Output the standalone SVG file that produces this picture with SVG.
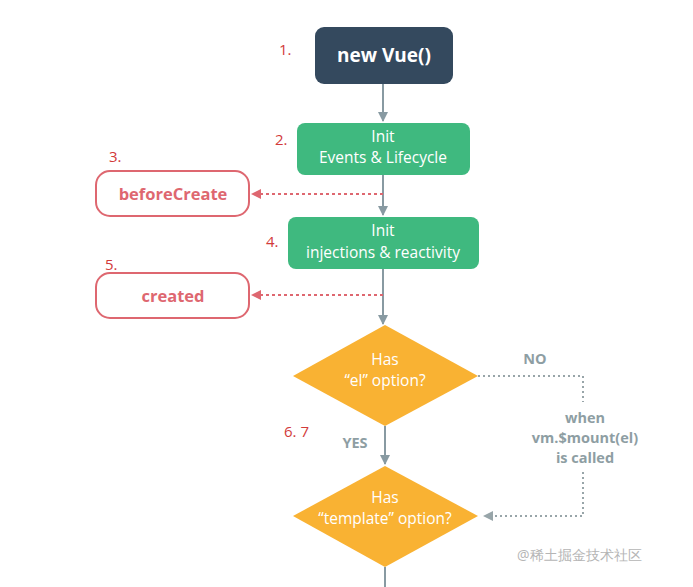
<svg xmlns="http://www.w3.org/2000/svg" width="693" height="587" viewBox="0 0 693 587">
<style>
text{font-family:"Open Sans","Liberation Sans",sans-serif;}
.num{fill:#d23a3a;font-size:15px;}
.wt{fill:#ffffff;font-size:15.5px;text-anchor:middle;}
.hook{fill:#ffffff;stroke:#de6770;stroke-width:2;}
.hookt{fill:#de6770;font-size:16.5px;font-weight:bold;text-anchor:middle;}
.gt{fill:#8e9ea3;font-size:14.5px;font-weight:bold;text-anchor:middle;}
.solid{stroke:#889aa2;stroke-width:2;fill:none;}
.pdash{stroke:#de6770;stroke-width:2;stroke-dasharray:3 3;fill:none;}
.gdash{stroke:#98a5a9;stroke-width:2;stroke-dasharray:2 3;fill:none;}
</style>
<defs>
<marker id="ag" viewBox="0 0 10 10" refX="9" refY="5" markerWidth="5" markerHeight="5" orient="auto"><path d="M0,0 L10,5 L0,10 z" fill="#889aa2"/></marker>
<marker id="ap" viewBox="0 0 10 10" refX="9" refY="5" markerWidth="5" markerHeight="5" orient="auto"><path d="M0,0 L10,5 L0,10 z" fill="#de6770"/></marker>
<marker id="ad" viewBox="0 0 10 10" refX="9" refY="5" markerWidth="5" markerHeight="5" orient="auto"><path d="M0,0 L10,5 L0,10 z" fill="#98a5a9"/></marker>
</defs>
<rect width="693" height="587" fill="#ffffff"/>
<g id="connectors">
<line class="solid" x1="383" y1="84" x2="383" y2="121" marker-end="url(#ag)"/>
<line class="solid" x1="383" y1="175" x2="383" y2="215" marker-end="url(#ag)"/>
<line class="solid" x1="383" y1="269" x2="383" y2="324" marker-end="url(#ag)"/>
<line class="pdash" x1="383" y1="194" x2="252" y2="194" marker-end="url(#ap)"/>
<line class="pdash" x1="383" y1="295" x2="252" y2="295" marker-end="url(#ap)"/>
<line class="solid" x1="385" y1="426" x2="385" y2="464" marker-end="url(#ag)"/>
<line class="solid" x1="385" y1="567" x2="385" y2="587"/>
<polyline class="gdash" points="478,376 583,376 583,402"/>
<polyline class="gdash" points="583,472 583,516 484,516" marker-end="url(#ad)"/>
</g>
<g id="n1"><rect x="315" y="27" width="138" height="57" rx="9" fill="#34495e"/><text x="384" y="62" fill="#ffffff" font-size="19" font-weight="bold" text-anchor="middle">new Vue()</text></g>
<g id="n2"><rect x="297" y="123" width="173" height="52" rx="8" fill="#3fb97f"/><text class="wt" x="383" y="142">Init</text><text class="wt" x="383" y="163">Events &amp; Lifecycle</text></g>
<g id="n3"><rect class="hook" x="96" y="171" width="153" height="45" rx="14"/><text class="hookt" x="173" y="200">beforeCreate</text></g>
<g id="n4"><rect x="288" y="217" width="191" height="52" rx="8" fill="#3fb97f"/><text class="wt" x="383" y="236">Init</text><text class="wt" x="383" y="258">injections &amp; reactivity</text></g>
<g id="n5"><rect class="hook" x="96" y="273" width="153" height="45" rx="14"/><text class="hookt" x="173" y="302">created</text></g>
<g id="n6"><polygon points="385,325 478,376 385,426 293,376" fill="#f9b233"/><text class="wt" x="385" y="365">Has</text><text class="wt" x="385" y="386">“el” option?</text></g>
<g id="n7"><polygon points="385,466 478,516 385,567 293,516" fill="#f9b233"/><text class="wt" x="385" y="503">Has</text><text class="wt" x="385" y="524">“template” option?</text></g>
<g id="labels">
<text class="num" x="279" y="55">1.</text>
<text class="num" x="275" y="145">2.</text>
<text class="num" x="109" y="162">3.</text>
<text class="num" x="266" y="247">4.</text>
<text class="num" x="105" y="270">5.</text>
<text class="num" x="284" y="437">6.  7</text>
<text class="gt" x="535" y="364">NO</text>
<text class="gt" x="355" y="448">YES</text>
<text class="gt" x="585" y="423">when</text>
<text class="gt" x="585" y="443">vm.$mount(el)</text>
<text class="gt" x="585" y="463">is called</text>
<text x="517" y="560" fill="#b5b5b5" font-size="14" font-family="'Noto Sans CJK SC',sans-serif">@稀土掘金技术社区</text>
</g>
</svg>
